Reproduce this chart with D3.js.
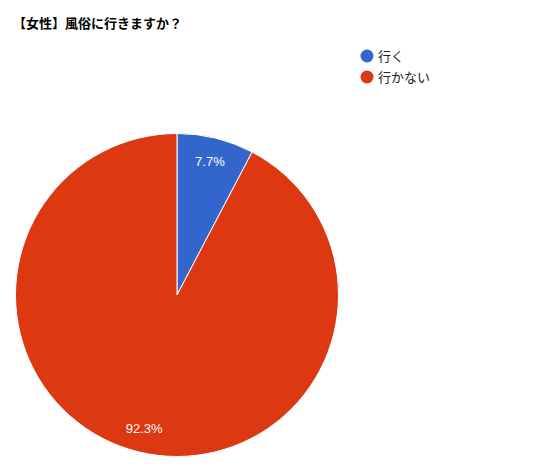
<!DOCTYPE html>
<html>
<head>
<meta charset="utf-8">
<script src="https://cdn.jsdelivr.net/npm/d3@7"></script>
<style>
  body { margin: 0; background: #fff; }
  text { font-family: "Liberation Sans", Arial, "Noto Sans CJK JP", sans-serif; }
</style>
</head>
<body>
<div id="chart"></div>
<script>
// data
const titleText = '【女性】風俗に行きますか？';
const categories = ['行く', '行かない'];
const values = [7.7, 92.3];
const colors = ['#3366cc', '#dc3912'];

const width = 540, height = 476;
const cx = 177, cy = 295, radius = 161.5;

const svg = d3.select('#chart').append('svg')
    .attr('width', width)
    .attr('height', height);

// title
svg.append('text')
    .attr('x', 13)
    .attr('y', 28)
    .attr('font-size', 13)
    .attr('font-weight', 'bold')
    .attr('fill', '#000')
    .style('font-family', '"Noto Sans CJK JP", sans-serif')
    .text(titleText);

const pie = d3.pie().sort(null).value(d => d)
const arcs = pie(values);
const arc = d3.arc().innerRadius(0).outerRadius(radius);
const labelArc = d3.arc().innerRadius(radius * 0.85).outerRadius(radius * 0.85);

const g = svg.append('g').attr('transform', 'translate(' + cx + ',' + cy + ')');

g.selectAll('path')
    .data(arcs)
    .join('path')
    .attr('d', arc)
    .attr('fill', (d, i) => colors[i])
    .attr('stroke', '#fff')
    .attr('stroke-width', 1);

g.selectAll('text.lbl')
    .data(arcs)
    .join('text')
    .attr('class', 'lbl')
    .attr('transform', d => 'translate(' + labelArc.centroid(d) + ')')
    .attr('text-anchor', 'middle')
    .attr('dy', '0.35em')
    .attr('font-size', 13)
    .attr('fill', '#fff')
    .text(d => d.data.toFixed(1) + '%');

// legend
const legend = svg.append('g')
    .selectAll('g')
    .data(categories)
    .join('g')
    .attr('transform', (d, i) => 'translate(367,' + (56 + i * 21) + ')');

legend.append('circle')
    .attr('r', 6.5)
    .attr('fill', (d, i) => colors[i]);

legend.append('text')
    .attr('x', 11)
    .attr('dy', '0.35em')
    .attr('font-size', 13)
    .attr('fill', '#222')
    .style('font-family', '"Noto Sans CJK JP", sans-serif')
    .text(d => d);
</script>
</body>
</html>
